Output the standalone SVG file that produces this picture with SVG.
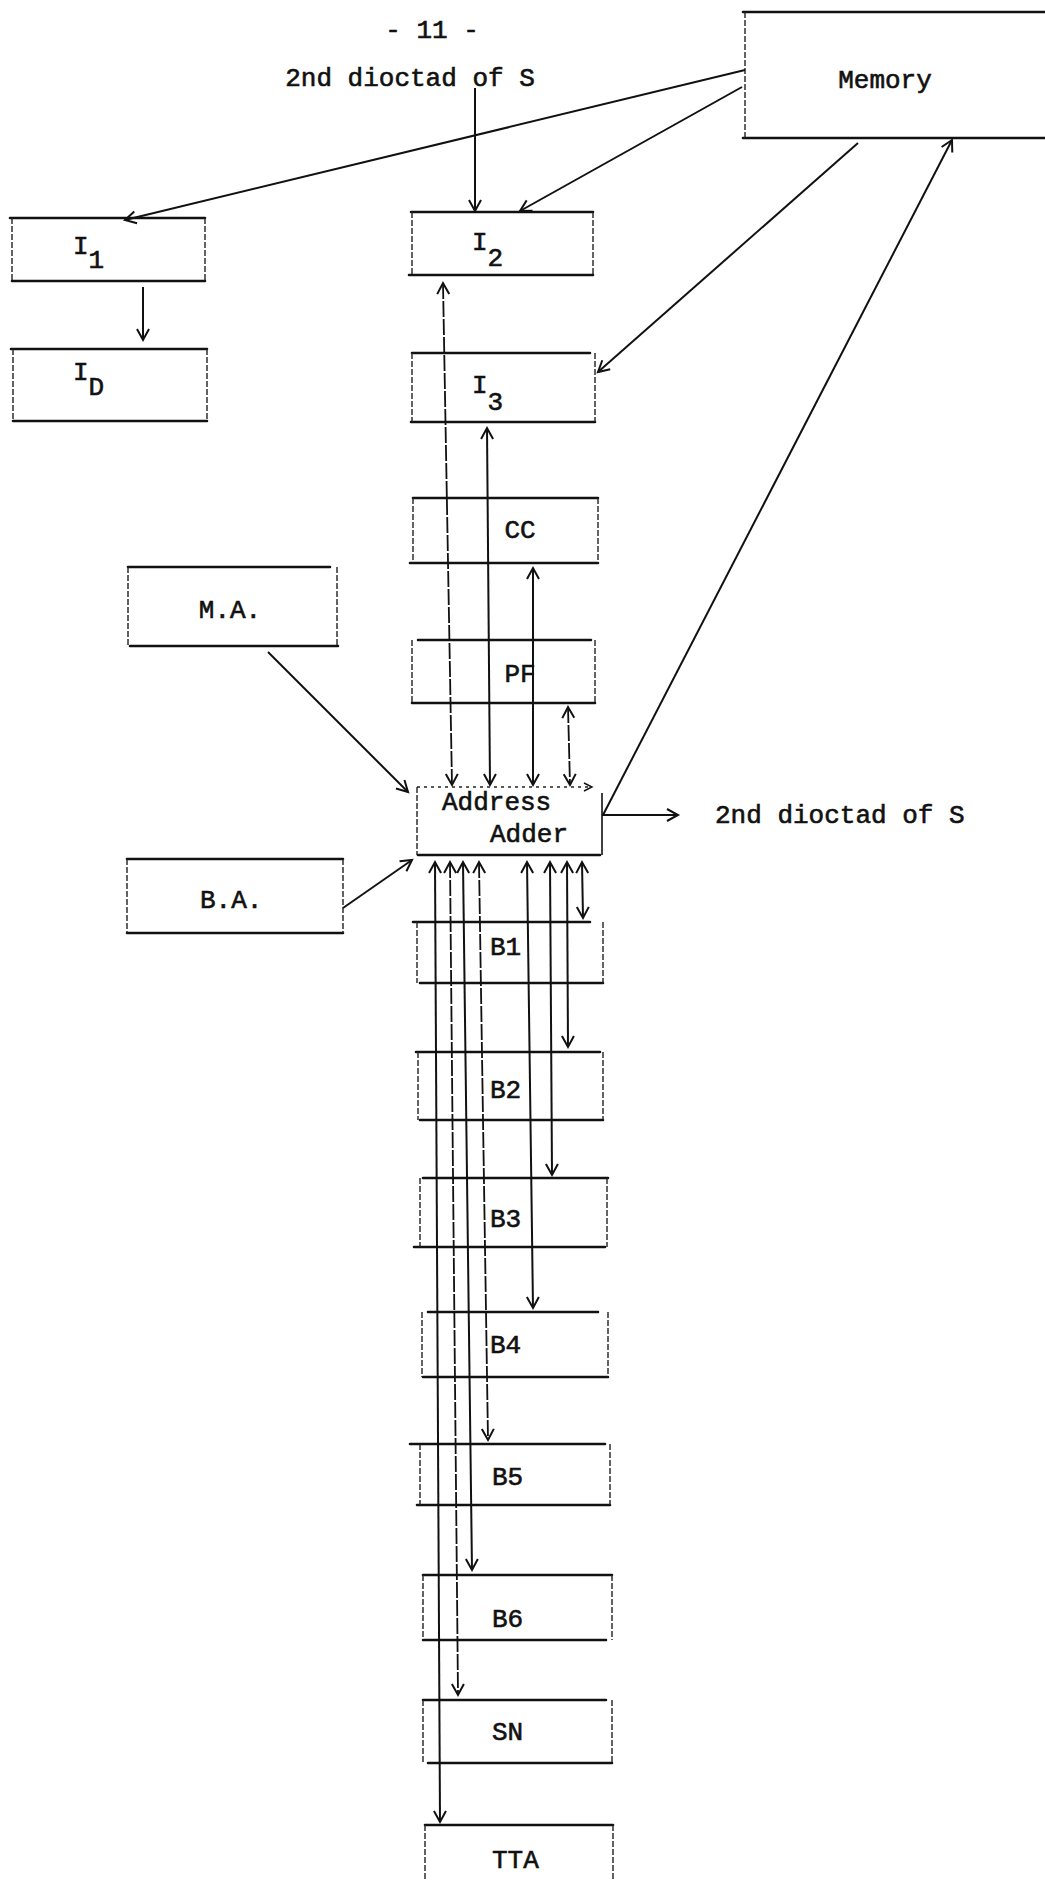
<svg xmlns="http://www.w3.org/2000/svg" width="1045" height="1881" viewBox="0 0 1045 1881">
<style>
text{font-family:"Liberation Mono","DejaVu Sans Mono",monospace;font-size:26px;fill:#111;stroke:#111;stroke-width:0.6}
.h{stroke:#111;stroke-width:2.6;fill:none;stroke-linecap:round}
.v{stroke:#222;stroke-width:1.4;fill:none;stroke-dasharray:6 2}
.c{stroke:#111;stroke-width:2;fill:none}
.d{stroke:#111;stroke-width:1.8;fill:none;stroke-dasharray:16 2}
.a{marker-end:url(#ah)}
.b{marker-start:url(#ah);marker-end:url(#ah)}
</style>
<defs>
<marker id="ah" markerUnits="userSpaceOnUse" markerWidth="14" markerHeight="14" refX="11" refY="6" orient="auto-start-reverse" overflow="visible">
<path d="M0,0 L11,6 L0,12" fill="none" stroke="#111" stroke-width="2"/>
</marker>
</defs>
<text x="432" y="38" text-anchor="middle">- 11 -</text>
<text x="410" y="86" text-anchor="middle">2nd dioctad of S</text>
<text x="715" y="823">2nd dioctad of S</text>

<g id="memory"><path class="h" d="M743 12H1045M743 138H1045"/><path class="v" d="M745 12V138"/><text x="885" y="88" text-anchor="middle">Memory</text></g>
<g id="i1"><path class="h" d="M10 218H205M12 281H205"/><path class="v" d="M12 218V281M205 218V281"/><text x="73" y="254">I<tspan dy="14">1</tspan></text></g>
<g id="id"><path class="h" d="M11 349H207M13 421H207"/><path class="v" d="M13 349V421M207 349V421"/><text x="73" y="380">I<tspan dy="15">D</tspan></text></g>
<g id="i2"><path class="h" d="M411 212H593M409 275H593"/><path class="v" d="M412 212V275M593 212V275"/><text x="472" y="250">I<tspan dy="16">2</tspan></text></g>
<g id="i3"><path class="h" d="M412 353H590M411 422H595"/><path class="v" d="M412 353V422M595 353V422"/><text x="472" y="393">I<tspan dy="17">3</tspan></text></g>
<g id="cc"><path class="h" d="M413 498H598M410 563H598"/><path class="v" d="M413 498V563M598 498V563"/><text x="520" y="538" text-anchor="middle">CC</text></g>
<g id="ma"><path class="h" d="M128 567H330M130 646H338"/><path class="v" d="M128 567V646M337 567V646"/><text x="230" y="618" text-anchor="middle">M.A.</text></g>
<g id="pf"><path class="h" d="M418 640H591M412 703H595"/><path class="v" d="M412 640V703M595 640V703"/><text x="520" y="682" text-anchor="middle">PF</text></g>
<g id="aa"><path d="M417 787H590" stroke="#222" stroke-width="1.4" stroke-dasharray="3 4" fill="none"/><path d="M584 783L592 787L584 791" stroke="#111" stroke-width="1.4" fill="none"/><path class="h" d="M418 855H600"/><path class="v" d="M417 787V855"/><path d="M602 793V855" stroke="#111" stroke-width="1.6" fill="none"/><text x="442" y="810">Address</text><text x="490" y="842">Adder</text></g>
<g id="ba"><path class="h" d="M127 859H343M127 933H343"/><path class="v" d="M127 859V933M343 859V933"/><text x="200" y="908">B.A.</text></g>
<g id="b1"><path class="h" d="M413 922H590M420 983H603"/><path class="v" d="M417 922V983M603 922V983"/><text x="490" y="955">B1</text></g>
<g id="b2"><path class="h" d="M416 1052H600M420 1120H603"/><path class="v" d="M418 1052V1120M603 1052V1120"/><text x="490" y="1098">B2</text></g>
<g id="b3"><path class="h" d="M423 1178H608M414 1247H605"/><path class="v" d="M420 1178V1247M607 1178V1247"/><text x="490" y="1227">B3</text></g>
<g id="b4"><path class="h" d="M428 1312H598M423 1377H608"/><path class="v" d="M422 1312V1377M608 1312V1377"/><text x="490" y="1353">B4</text></g>
<g id="b5"><path class="h" d="M410 1444H605M417 1505H610"/><path class="v" d="M420 1444V1505M610 1444V1505"/><text x="492" y="1485">B5</text></g>
<g id="b6"><path class="h" d="M423 1575H612M423 1640H606"/><path class="v" d="M423 1575V1640M612 1575V1640"/><text x="492" y="1627">B6</text></g>
<g id="sn"><path class="h" d="M423 1700H606M428 1763H612"/><path class="v" d="M423 1700V1763M612 1700V1763"/><text x="492" y="1740">SN</text></g>
<g id="tta"><path class="h" d="M425 1825H613"/><path class="v" d="M425 1825V1881M613 1825V1881"/><text x="492" y="1868">TTA</text></g>

<g id="connectors">
<path class="c a" d="M745 70L125 220"/>
<path class="c a" d="M742 87L520 211"/>
<path class="c a" d="M475 88L475 211"/>
<path class="c a" d="M858 143L598 372"/>
<path class="c a" d="M603 815L952 140"/>
<path class="c a" d="M143 287L143 340" stroke-width="2.6"/>
<path class="d b" d="M443 283L452 785"/>
<path class="c b" d="M487 428L490 785"/>
<path class="c b" d="M533 568L533 785"/>
<path class="d b" d="M568 707L570 785"/>
<path class="c a" d="M268 652L408 792"/>
<path class="c a" d="M343 908L412 860"/>
<path class="c a" d="M602 815L678 815"/>
<path class="c b" d="M435 862L440 1822"/>
<path class="d b" d="M450 862L458 1695"/>
<path class="c b" d="M463 862L472 1570"/>
<path class="d b" d="M479 862L488 1440"/>
<path class="c b" d="M527 862L533 1308"/>
<path class="c b" d="M550 862L552 1175"/>
<path class="c b" d="M567 862L568 1047"/>
<path class="c b" d="M582 862L583 918"/>
</g>
</svg>
